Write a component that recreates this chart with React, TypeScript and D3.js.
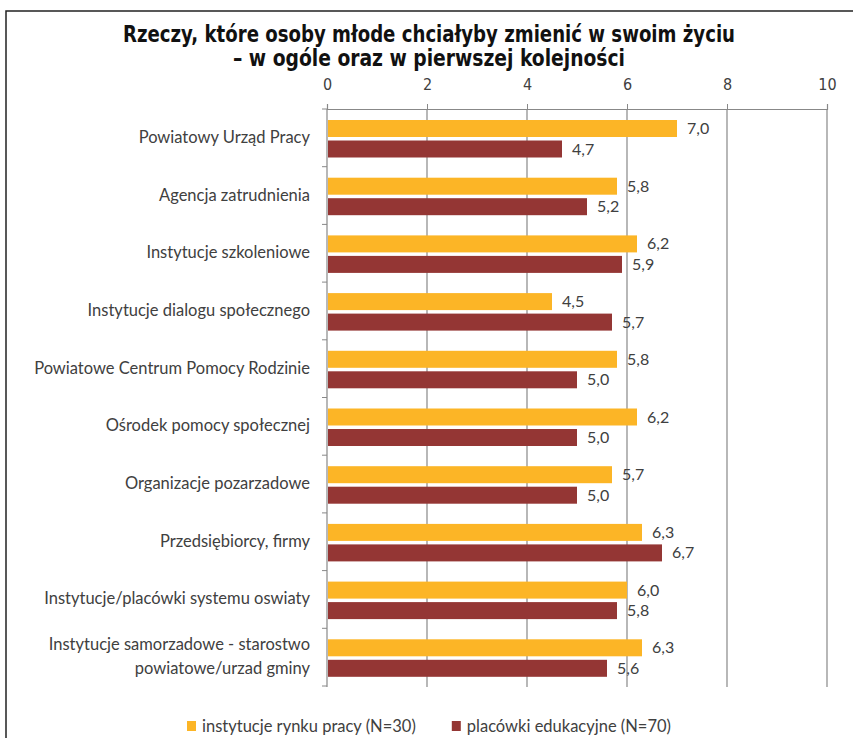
import React, { useEffect, useRef } from 'react';
import * as d3 from 'd3';

const categories = [
  'Powiatowy Urząd Pracy',
  'Agencja zatrudnienia',
  'Instytucje szkoleniowe',
  'Instytucje dialogu społecznego',
  'Powiatowe Centrum Pomocy Rodzinie',
  'Ośrodek pomocy społecznej',
  'Organizacje pozarzadowe',
  'Przedsiębiorcy, firmy',
  'Instytucje/placówki systemu oswiaty',
  'Instytucje samorzadowe - starostwo\npowiatowe/urzad gminy',
];
const rynekPracy = [7.0, 5.8, 6.2, 4.5, 5.8, 6.2, 5.7, 6.3, 6.0, 6.3];
const placowki = [4.7, 5.2, 5.9, 5.7, 5.0, 5.0, 5.0, 6.7, 5.8, 5.6];
const xTicks = [0, 2, 4, 6, 8, 10];
const seriesNames = ['instytucje rynku pracy (N=30)', 'placówki edukacyjne (N=70)'];
const titleLines = [
  'Rzeczy, które osoby młode chciałyby zmienić w swoim życiu',
  '– w ogóle oraz w pierwszej kolejności',
];

const W = 853;
const H = 738;
const labelFont = "Lato, 'Open Sans', sans-serif";
const titleFont = "'Liberation Sans Narrow', 'DejaVu Sans Condensed', 'DejaVu Sans', sans-serif";
const colors = ['#fcb526', '#943634'];

export default function App() {
  const svgRef = useRef<SVGSVGElement>(null);

  useEffect(() => {
    if (!svgRef.current) return;
    const svg = d3.select(svgRef.current);
    svg.selectAll('*').remove();

    const margin = { top: 109, left: 327, right: 26, bottom: 52 };

    // frame
    svg.append('rect')
      .attr('x', 6).attr('y', 11)
      .attr('width', W + 20).attr('height', H + 20)
      .attr('fill', 'white')
      .attr('stroke', '#222').attr('stroke-width', 1.5);

    // title (squeezed to the width of the narrow original font)
    const titleWidths = [612, 392];
    titleLines.forEach((t, i) => {
      svg.append('text')
        .attr('x', 429)
        .attr('y', 42 + i * 24)
        .attr('text-anchor', 'middle')
        .attr('textLength', titleWidths[i])
        .attr('lengthAdjust', 'spacingAndGlyphs')
        .style('font-family', titleFont)
        .style('font-stretch', 'condensed')
        .style('font-weight', 'bold')
        .style('font-size', '22.5px')
        .attr('fill', '#111')
        .text(t);
    });

    const x = d3.scaleLinear().domain([0, 10]).range([margin.left, W - margin.right]);
    const y = d3.scaleBand().domain(categories).range([margin.top, H - margin.bottom]);
    const bh = y.bandwidth();

    // gridlines
    svg.append('g')
      .selectAll('line')
      .data(xTicks.slice(1))
      .join('line')
      .attr('x1', d => x(d)).attr('x2', d => x(d))
      .attr('y1', margin.top).attr('y2', H - margin.bottom + 1)
      .attr('stroke', '#a6a6a6').attr('stroke-width', 1.6);

    // top axis
    const xAxis = svg.append('g')
      .attr('transform', `translate(0,${margin.top})`)
      .call(d3.axisTop(x).tickValues(xTicks).tickSize(5).tickPadding(14).tickFormat(d3.format('d')));
    xAxis.select('.domain').attr('stroke', '#888').attr('stroke-width', 1.2);
    xAxis.selectAll('.tick line').attr('stroke', '#888');
    xAxis.selectAll('.tick text')
      .style('font-family', titleFont)
      .style('font-stretch', 'condensed')
      .style('font-size', '16px')
      .attr('fill', '#404040');

    // left axis line + boundary ticks
    svg.append('line')
      .attr('x1', margin.left).attr('x2', margin.left)
      .attr('y1', margin.top).attr('y2', H - margin.bottom + 1)
      .attr('stroke', '#888').attr('stroke-width', 1.2);
    svg.append('g')
      .selectAll('line')
      .data(categories.map(c => y(c)! + bh).concat([margin.top]))
      .join('line')
      .attr('x1', margin.left - 5).attr('x2', margin.left)
      .attr('y1', d => d).attr('y2', d => d)
      .attr('stroke', '#888');

    // category labels
    categories.forEach(c => {
      const lines = c.split('\n');
      const cy = y(c)! + bh / 2;
      const t = svg.append('text')
        .attr('x', 310)
        .attr('text-anchor', 'end')
        .style('font-family', labelFont)
        .style('font-size', '16.5px')
        .attr('fill', '#404040');
      lines.forEach((l, i) => {
        t.append('tspan')
          .attr('x', 310)
          .attr('y', cy + 5 + (i - (lines.length - 1) / 2) * 24)
          .text(l);
      });
    });

    // bars
    const series = [rynekPracy, placowki];
    const barH = 17;
    const offsets = [11, 31.5];
    series.forEach((vals, si) => {
      svg.append('g')
        .selectAll('rect')
        .data(vals)
        .join('rect')
        .attr('x', x(0) + 1)
        .attr('y', (_, i) => y(categories[i])! + offsets[si])
        .attr('width', d => x(d) - x(0) - 1)
        .attr('height', barH)
        .attr('fill', colors[si]);

      svg.append('g')
        .selectAll('text')
        .data(vals)
        .join('text')
        .attr('x', d => x(d) + 10)
        .attr('y', (_, i) => y(categories[i])! + offsets[si] + barH / 2 + 5.5)
        .style('font-family', labelFont)
        .style('font-size', '16px')
        .attr('fill', '#404040')
        .text(d => d.toFixed(1).replace('.', ','));
    });

    // legend
    const legend = svg.append('g').attr('transform', `translate(187, 721)`);
    let lx = 0;
    seriesNames.forEach((name, i) => {
      legend.append('rect')
        .attr('x', lx).attr('y', 0)
        .attr('width', 9).attr('height', 10)
        .attr('fill', colors[i]);
      const t = legend.append('text')
        .attr('x', lx + 15).attr('y', 10.5)
        .style('font-family', labelFont)
        .style('font-size', '16.5px')
        .attr('fill', '#404040')
        .text(name);
      const w = (t.node() as SVGTextElement).getComputedTextLength();
      lx += 15 + w + 36;
    });
  }, []);

  return (
    <div style={{ position: 'absolute', left: 0, top: 0 }}>
      <svg ref={svgRef} width={W} height={H}></svg>
    </div>
  );
}
